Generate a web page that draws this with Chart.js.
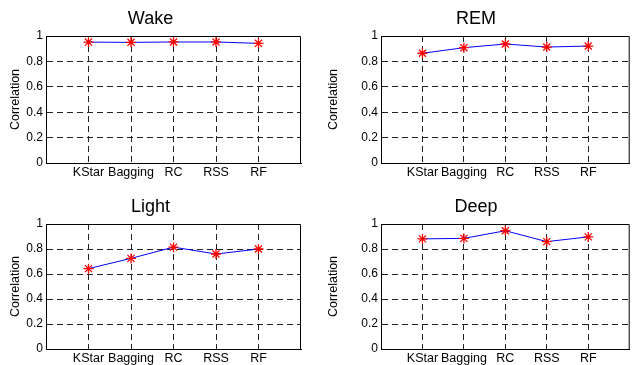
<!DOCTYPE html>
<html>
<head>
<meta charset="utf-8">
<script src="https://cdn.jsdelivr.net/npm/chart.js@4/dist/chart.umd.min.js"></script>
<style>
  html, body { margin: 0; padding: 0; background: #fff; }
  #wrap { position: relative; width: 636px; height: 365px; overflow: hidden; }
  .cell { position: absolute; }
</style>
</head>
<body>
<div id="wrap">
  <div class="cell" style="left:0;top:0;width:318px;height:182px"><canvas id="wake"></canvas></div>
  <div class="cell" style="left:318px;top:0;width:318px;height:182px"><canvas id="rem"></canvas></div>
  <div class="cell" style="left:0;top:182px;width:318px;height:183px"><canvas id="light"></canvas></div>
  <div class="cell" style="left:318px;top:182px;width:318px;height:183px"><canvas id="deep"></canvas></div>
</div>
<script>
// classifiers on the x axis
const categories = ["KStar", "Bagging", "RC", "RSS", "RF"];
const yTickLabels = ["0", "0.2", "0.4", "0.6", "0.8", "1"];

// correlation per sleep stage
const wake = [0.952, 0.950, 0.953, 0.953, 0.942];
const rem = [0.864, 0.908, 0.937, 0.913, 0.921];
const light = [0.643, 0.725, 0.815, 0.760, 0.800];
const deep = [0.881, 0.885, 0.946, 0.859, 0.897];

const FONT = "'Liberation Sans', Arial, sans-serif";

// draws top + right edges so the axes look boxed like matlab
const boxPlugin = {
  id: "box",
  beforeDatasetsDraw(chart) {
    const a = chart.chartArea;
    const ctx = chart.ctx;
    ctx.save();
    ctx.strokeStyle = "#000";
    ctx.lineWidth = 1;
    ctx.beginPath();
    ctx.moveTo(a.left, a.top + 0.5);
    ctx.lineTo(a.right - 0.5, a.top + 0.5);
    ctx.lineTo(a.right - 0.5, a.bottom);
    ctx.stroke();
    ctx.restore();
  },
};

function makeChart(id, title, values, layout) {
  const points = values.map((v, i) => ({ x: i + 1, y: v }));
  return new Chart(document.getElementById(id), {
    type: "line",
    data: {
      datasets: [
        {
          data: points,
          borderColor: "#0000ff",
          borderWidth: 1,
          pointStyle: "star",
          pointRadius: 5,
          pointBorderColor: "#ff0000",
          pointBackgroundColor: "#ff0000",
          pointBorderWidth: 1.3,
          tension: 0,
          clip: false,
        },
      ],
    },
    options: {
      responsive: true,
      maintainAspectRatio: false,
      animation: false,
      layout: { padding: { left: 0, right: layout.right, top: 0, bottom: 0 } },
      plugins: {
        legend: { display: false },
        tooltip: { enabled: false },
        title: {
          display: true,
          text: title,
          color: "#000",
          font: { family: FONT, size: 18, weight: "normal", lineHeight: 1 },
          padding: { top: layout.titleTop, bottom: layout.titleBottom },
        },
      },
      scales: {
        x: {
          type: "linear",
          min: 0,
          max: 6,
          afterFit: (s) => {
            s.height = layout.xh;
          },
          ticks: {
            stepSize: 1,
            autoSkip: false,
            maxRotation: 0,
            padding: 2,
            color: "#000",
            font: { family: FONT, size: 12.5 },
            callback: (v) => categories[v - 1] || "",
          },
          grid: {
            drawTicks: false,
            lineWidth: 1,
            color: (ctx) =>
              ctx.tick && (ctx.tick.value === 0 || ctx.tick.value === 6)
                ? "rgba(0,0,0,0)"
                : "#222",
          },
          border: { display: true, color: "#000", width: 1, dash: [6, 4] },
        },
        y: {
          min: 0,
          max: 1,
          afterFit: (s) => {
            s.width = layout.yw;
          },
          ticks: {
            stepSize: 0.2,
            padding: 3,
            color: "#000",
            font: { family: FONT, size: 12 },
            callback: (v, i) => yTickLabels[i],
          },
          grid: {
            drawTicks: false,
            lineWidth: 1,
            color: (ctx) =>
              ctx.tick && (ctx.tick.value <= 0.001 || ctx.tick.value >= 0.999)
                ? "rgba(0,0,0,0)"
                : "#222",
          },
          border: { display: true, color: "#000", width: 1, dash: [6, 4] },
          title: {
            display: true,
            text: "Correlation",
            color: "#000",
            font: { family: FONT, size: 12.5 },
            padding: { top: 8.5, bottom: 0 },
          },
        },
      },
    },
    plugins: [boxPlugin],
  });
}

makeChart("wake", "Wake", wake, { yw: 46, right: 17, titleTop: 10.5, titleBottom: 7.5, xh: 19 });
makeChart("rem", "REM", rem, { yw: 63, right: 2, titleTop: 10.5, titleBottom: 7.5, xh: 19 });
makeChart("light", "Light", light, { yw: 46, right: 17, titleTop: 16, titleBottom: 8, xh: 16 });
makeChart("deep", "Deep", deep, { yw: 63, right: 2, titleTop: 16, titleBottom: 8, xh: 16 });
</script>
</body>
</html>
